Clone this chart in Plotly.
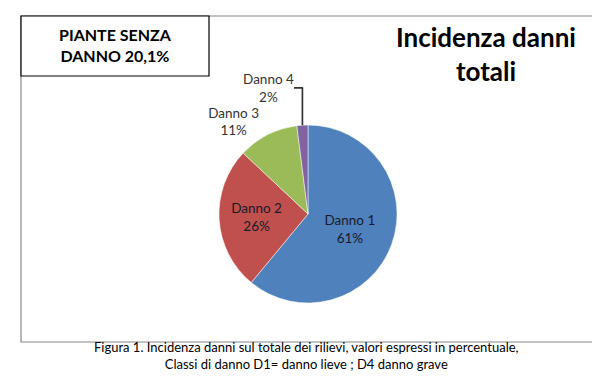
import plotly.graph_objects as go

labels = ["Danno 1", "Danno 2", "Danno 3", "Danno 4"]
values = [61, 26, 11, 2]
colors = ["#4F81BD", "#C0504D", "#9BBB59", "#8064A2"]
positions = ["inside", "inside", "outside", "outside"]

title_text = "Incidenza danni<br>totali"
box_text = "PIANTE SENZA<br>DANNO 20,1%"
caption_text = ("Figura 1. Incidenza danni sul totale dei rilievi, valori espressi in percentuale,<br>"
                "Classi di danno D1= danno lieve ; D4 danno grave")

W, H = 600, 387
FONT = "Lato, 'Open Sans', sans-serif"

def px(x):
    return x / W

def py(y):
    return 1 - y / H

cx, cy, r = 300, 206, 89

fig = go.Figure(go.Pie(
    labels=labels,
    values=values,
    marker=dict(colors=colors, line=dict(color="white", width=0.5)),
    sort=False,
    direction="clockwise",
    rotation=0,
    textinfo="label+percent",
    texttemplate="%{label}<br>%{percent:.0%}",
    textposition=positions,
    insidetextfont=dict(color="#1a1a2a", size=13.5, family=FONT),
    outsidetextfont=dict(color="#333333", size=13.5, family=FONT),
    insidetextorientation="horizontal",
    showlegend=False,
    hole=0,
    domain=dict(x=[px(cx - r), px(cx + r)], y=[py(cy + r), py(cy - r)]),
))

shapes = [
    dict(type="rect", xref="paper", yref="paper",
         x0=px(13), x1=px(588), y0=py(334), y1=py(8),
         line=dict(color="#888888", width=1.2)),
    dict(type="rect", xref="paper", yref="paper",
         x0=px(13), x1=px(201), y0=py(68), y1=py(8),
         line=dict(color="#000000", width=1.2), fillcolor="white"),
]

annotations = [
    dict(x=px(107), y=py(37), xref="paper", yref="paper", text="<b>" + box_text + "</b>",
         showarrow=False, font=dict(size=16, family=FONT, color="#000"),
         xanchor="center", yanchor="middle"),
    dict(x=px(478), y=py(46), xref="paper", yref="paper", text="<b>" + title_text + "</b>",
         showarrow=False, font=dict(size=26, family=FONT, color="#000"),
         xanchor="center", yanchor="middle"),
    dict(x=px(298), y=py(347), xref="paper", yref="paper", text=caption_text,
         showarrow=False, font=dict(size=13, family=FONT, color="#000"),
         xanchor="center", yanchor="middle"),
]

fig.update_layout(
    width=W, height=H,
    margin=dict(l=0, r=0, t=0, b=0),
    paper_bgcolor="white",
    plot_bgcolor="white",
    shapes=shapes,
    annotations=annotations,
)

fig.write_html("out.html")
